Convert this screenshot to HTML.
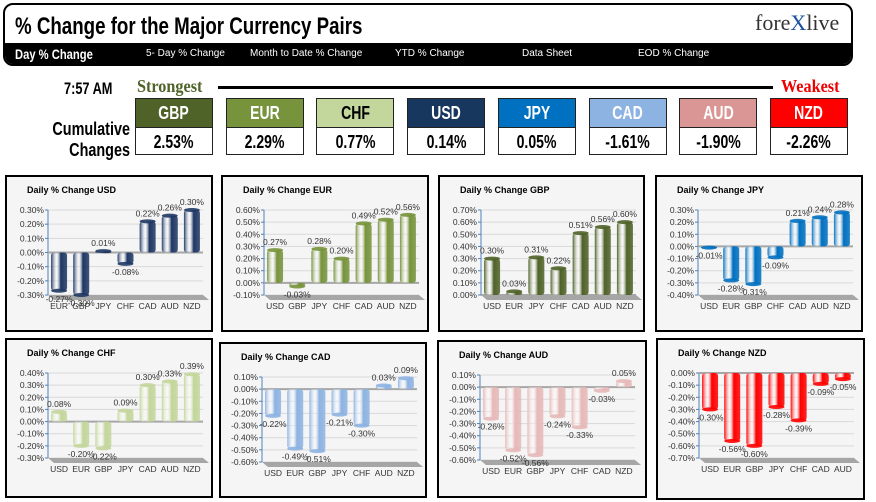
<!DOCTYPE html>
<html><head><meta charset="utf-8"><style>
body{margin:0;width:876px;height:502px;background:#fff;font-family:"Liberation Sans",sans-serif;overflow:hidden;position:relative}
.abs{position:absolute}
.cond{font-family:"Liberation Sans",sans-serif;font-weight:bold}
.sq{display:inline-block;transform:scaleX(0.78);transform-origin:center}
.box{position:absolute;width:78px;height:57px;border:1px solid #222;box-sizing:border-box}
.box .top{height:28px;color:#fff;font-size:18px;text-align:center;line-height:28px;border-bottom:1px solid #222}
.box .bot{height:28px;font-size:18px;text-align:center;line-height:28px;color:#000}
</style></head><body>
<div class="abs" style="left:3px;top:3px;width:850px;height:63px;border:2px solid #000;border-radius:10px;box-sizing:border-box;overflow:hidden">
  <div class="abs cond" style="left:10px;top:8px;font-size:24px;transform:scaleX(0.78);transform-origin:left;white-space:nowrap">% Change for the Major Currency Pairs</div>
  <div class="abs" style="left:750px;top:5px;font-family:'Liberation Serif',serif;font-size:22px;color:#333">fore<span style="color:#1a4fa0">X</span>live</div>
  <div class="abs" style="left:0;top:38px;width:850px;height:21px;background:#000;color:#fff;font-size:10px">
    <span class="abs" style="left:10px;top:2px;font-size:14px;line-height:18px;font-weight:bold;transform:scaleX(0.8);transform-origin:left;white-space:nowrap">Day % Change</span>
    <span class="abs" style="left:141px;top:5px">5- Day % Change</span>
    <span class="abs" style="left:245px;top:5px">Month to Date % Change</span>
    <span class="abs" style="left:390px;top:5px">YTD % Change</span>
    <span class="abs" style="left:517px;top:5px">Data Sheet</span>
    <span class="abs" style="left:633px;top:5px">EOD % Change</span>
  </div>
</div>
<div class="abs cond" style="left:64px;top:79px;font-size:17px;transform:scaleX(0.75);transform-origin:left;white-space:nowrap">7:57 AM</div>
<div class="abs" style="left:137px;top:76px;font-family:'Liberation Serif',serif;font-weight:bold;font-size:18px;color:#4f6228;transform:scaleX(0.9);transform-origin:left">Strongest</div>
<div class="abs" style="left:218px;top:86px;width:555px;height:3px;background:#000"></div>
<div class="abs" style="left:781px;top:76px;font-family:'Liberation Serif',serif;font-weight:bold;font-size:18px;color:#e00;transform:scaleX(0.9);transform-origin:left">Weakest</div>
<div class="abs cond" style="left:30px;top:119px;font-size:18px;text-align:right;line-height:21px;width:100px;transform:scaleX(0.8);transform-origin:right">Cumulative<br>Changes</div>
<div id="boxes"></div>
<svg id="charts" class="abs" style="left:0;top:0" width="876" height="502"></svg>
<script>
const boxCur=["GBP","EUR","CHF","USD","JPY","CAD","AUD","NZD"];
const boxVal=["2.53%","2.29%","0.77%","0.14%","0.05%","-1.61%","-1.90%","-2.26%"];
const boxCol=["#4f6228","#77933c","#c3d69b","#17375e","#0070c0","#8db3e2","#d99694","#ff0000"];
const bx=document.getElementById('boxes');
boxCur.forEach((c,i)=>{
  const d=document.createElement('div');d.className='box';
  d.style.left=(135+i*90.7)+'px';d.style.top='98px';
  
  
  d.innerHTML='<div class="top cond" style="background:'+boxCol[i]+';color:'+(c==='CHF'?'#000':'#fff')+'"><span class="sq">'+c+'</span></div><div class="bot cond"><span class="sq">'+boxVal[i]+'</span></div>';
  bx.appendChild(d);
});

const titles=["USD","EUR","GBP","JPY","CHF","CAD","AUD","NZD"];
const cats=[["EUR","GBP","JPY","CHF","CAD","AUD","NZD"],["USD","GBP","JPY","CHF","CAD","AUD","NZD"],["USD","EUR","JPY","CHF","CAD","AUD","NZD"],["USD","EUR","GBP","CHF","CAD","AUD","NZD"],["USD","EUR","GBP","JPY","CAD","AUD","NZD"],["USD","EUR","GBP","JPY","CHF","AUD","NZD"],["USD","EUR","GBP","JPY","CHF","CAD","NZD"],["USD","EUR","GBP","JPY","CHF","CAD","AUD"]];
const vals=[[-0.27,-0.30,0.01,-0.08,0.22,0.26,0.30],[0.27,-0.03,0.28,0.20,0.49,0.52,0.56],[0.30,0.03,0.31,0.22,0.51,0.56,0.60],[-0.01,-0.28,-0.31,-0.09,0.21,0.24,0.28],[0.08,-0.20,-0.22,0.09,0.30,0.33,0.39],[-0.22,-0.49,-0.51,-0.21,-0.30,0.03,0.09],[-0.26,-0.52,-0.56,-0.24,-0.33,-0.03,0.05],[-0.30,-0.56,-0.60,-0.28,-0.39,-0.09,-0.05]];
const yMin=[-0.3,-0.1,0,-0.4,-0.3,-0.6,-0.6,-0.7];
const yMax=[0.3,0.6,0.7,0.3,0.4,0.1,0.1,0.0];
const colors=["#1f3864","#77933c","#4f6228","#0070c0","#c3d69b","#8db3e2","#e6b9b8","#ff0000"];
const panels=[[5,175,208,157],[221,175,208,157],[438,175,207,157],[655,175,208,157],[5,338,208,160],[219,342,208,156],[437,340,210,158],[656,338,209,162]];
const NS='http://www.w3.org/2000/svg';
const svg=document.getElementById('charts');
function el(t,a,p){const e=document.createElementNS(NS,t);for(const k in a)e.setAttribute(k,a[k]);(p||svg).appendChild(e);return e;}
const defs=el('defs',{});
colors.forEach((c,i)=>{
  const g=el('linearGradient',{id:'g'+i,x1:0,x2:1,y1:0,y2:0},defs);
  el('stop',{offset:'0','stop-color':c},g);
  el('stop',{offset:'0.35','stop-color':'#fff','stop-opacity':0.3},g);
  el('stop',{offset:'0.6','stop-color':c},g);
  el('stop',{offset:'1','stop-color':c,'stop-opacity':0.85},g);
});
titles.forEach((t,i)=>{
  const [px,py,pw,ph]=panels[i];
  const grp=el('g',{});
  
  
  el('rect',{x:px+1,y:py+1,width:pw-2,height:ph-2,fill:'#f5f5f5',stroke:'#000','stroke-width':2},grp);
  const tt=el('text',{x:px+22,y:py+18,'font-size':9,'font-weight':'bold',fill:'#000'},grp);tt.textContent='Daily % Change '+t;
  const x0=px+43,x1=px+198,yT=py+35,yB=py+120;
  const ys=v=>yB-(v-yMin[i])/(yMax[i]-yMin[i])*(yB-yT);
  const n=Math.round((yMax[i]-yMin[i])/0.1);
  for(let k=0;k<=n;k++){
    const v=yMin[i]+k*0.1,y=ys(v);
    el('line',{x1:x0,x2:x1,y1:y,y2:y,stroke:'#d9d9d9','stroke-width':1},grp);
    el('line',{x1:x0-3,x2:x0,y1:y,y2:y,stroke:'#4f81bd'},grp);
    const lb=el('text',{x:x0-4,y:y+3,'font-size':8.5,'text-anchor':'end',fill:'#333'},grp);lb.textContent=v.toFixed(2)+'%';
  }
  el('line',{x1:x0,x2:x0,y1:yT,y2:yB,stroke:'#4f81bd'},grp);
  el('polygon',{points:`${x0},${yB} ${x1},${yB} ${x1+6},${yB+5} ${x0+6},${yB+5}`,fill:'#a6a6a6'},grp);
  const z=ys(Math.max(yMin[i],Math.min(0,yMax[i])));
  el('line',{x1:x0,x2:x1,y1:z,y2:z,stroke:'#a6a6a6','stroke-width':2},grp);
  const bw=(x1-x0)/7;
  cats[i].forEach((c,j)=>{
    const v=vals[i][j],cx=x0+bw*(j+0.5),y=ys(v);
    const top=Math.min(y,z),h=Math.max(2,Math.abs(y-z));
    const b=el('rect',{x:cx-8,y:top,width:16,height:h,rx:3,fill:'url(#g'+i+')'},grp);
    
    
    el('ellipse',{cx:cx,cy:y,rx:8,ry:2,fill:colors[i],opacity:0.9},grp);
    const vl=el('text',{x:cx,y:v>=0?y-5:y+11,'font-size':8.5,'text-anchor':'middle',fill:'#333'},grp);vl.textContent=v.toFixed(2)+'%';
    const cl=el('text',{x:cx,y:yB+14,'font-size':8.5,'text-anchor':'middle',fill:'#333'},grp);cl.textContent=c;
  });
});
</script>
</body></html>
